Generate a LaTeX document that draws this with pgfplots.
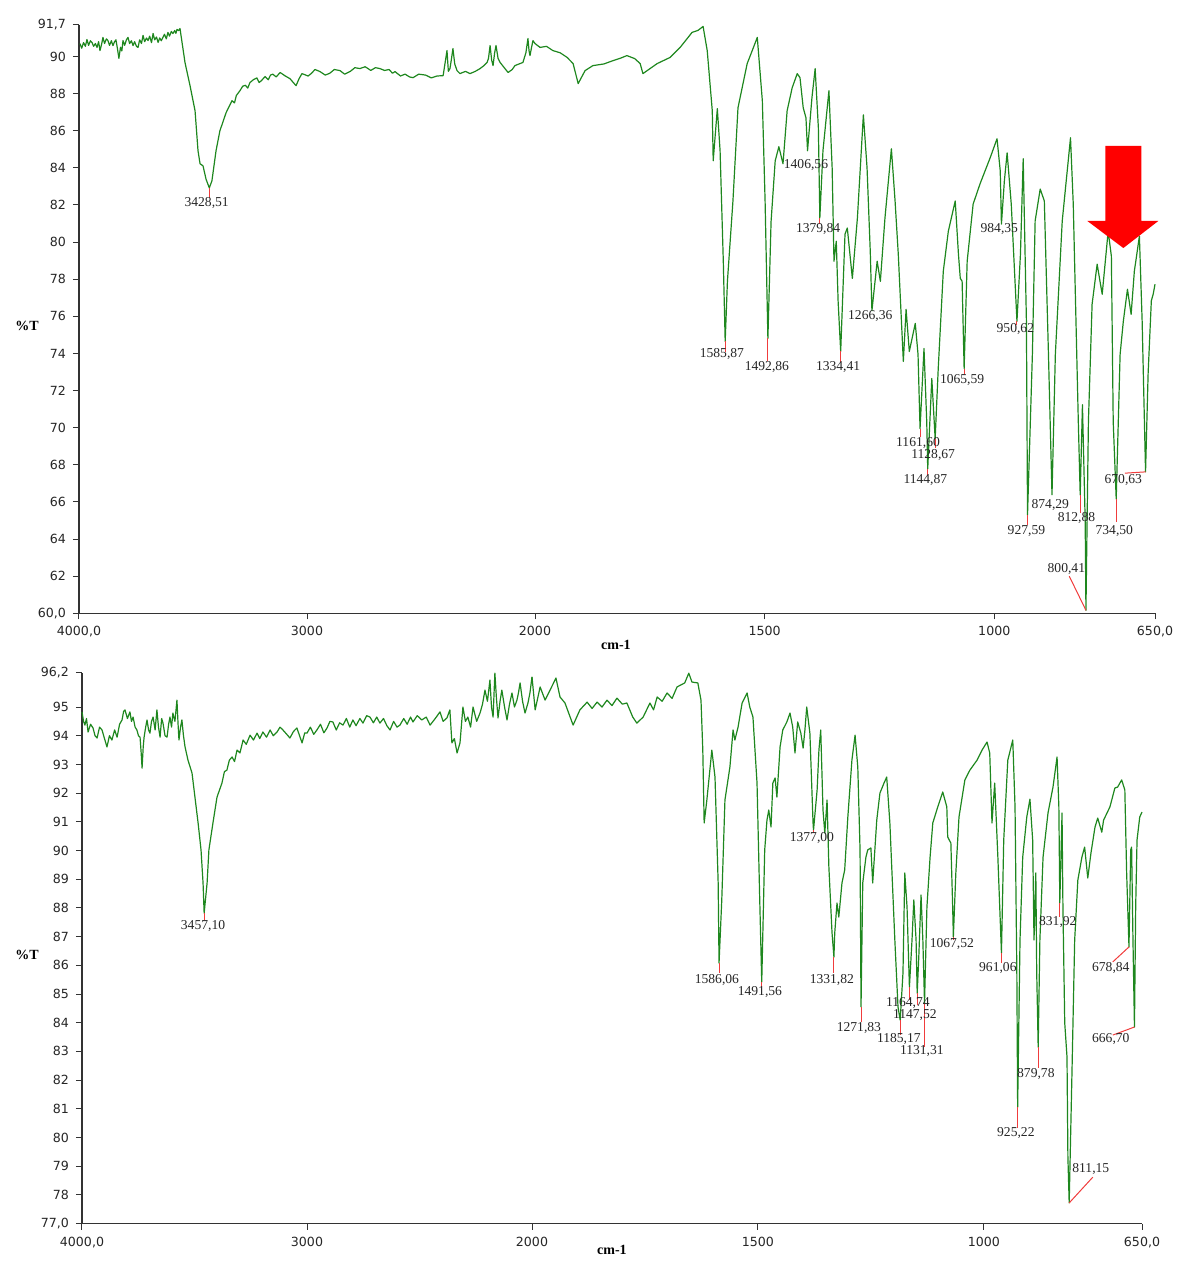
\documentclass[border=0pt]{standalone}
\usepackage{fontspec}
\setmainfont{Liberation Serif}
\newfontfamily\dejavu{DejaVu Sans}
\usepackage{pgfplots}
\pgfplotsset{compat=1.18}
\definecolor{specgreen}{RGB}{30,135,30}
\definecolor{pkred}{RGB}{240,60,60}
\newcommand\tickfont{\dejavu\fontsize{6.3}{7}\selectfont}
\newcommand\lblfont{\fontsize{6.8}{7}\selectfont}
\newcommand\axlblfont{\bfseries\fontsize{7}{8}\selectfont}
\tikzset{pk/.style={pkred, line width=0.5pt}}
\pgfplotsset{
  irbase/.style={
    anchor=south west, scale only axis, x dir=reverse,
    axis line style={line width=0.6pt, black!80},
    tick align=outside, major tick length=3pt,
    tick style={line width=0.5pt, black!80},
    ticklabel style={font=\tickfont, text=black!85},
    clip=false,
  },
  irleft/.style={irbase, axis x line*=bottom, axis y line*=left,
    xmin=2000, xmax=4000, xtick={4000,3000}, xticklabels={{4000,0},3000}},
  irright/.style={irbase, axis x line*=bottom, axis y line=none, ytick=\empty,
    xmin=650, xmax=2000, xtick={2000,1500,1000,650}, xticklabels={2000,1500,1000,{650,0}}},
  spec/.style={specgreen, line width=0.6pt, mark=none, line join=round},
}

\begin{document}
\begin{tikzpicture}
\useasboundingbox (0,0) rectangle (588pt,630.5pt);
%================ TOP SPECTRUM, 4000-2000 =================
\begin{axis}[irleft,
  at={(39.5pt,323.85pt)}, width=228pt, height=294.15pt,
  ymin=60, ymax=91.7,
  ytick={60,62,64,66,68,70,72,74,76,78,80,82,84,86,88,90,91.7},
  yticklabels={{60,0},62,64,66,68,70,72,74,76,78,80,82,84,86,88,90,{91,7}},
  ylabel={\%T}, ylabel style={at={(axis description cs:-0.114,0.488)}, anchor=center, rotate=-90, font=\axlblfont},
]
\addplot[spec] coordinates {
(3996,90.70) (3988,90.45) (3980,90.75) (3972,90.55) (3965,90.92) (3958,90.6) (3950,90.85) (3943,90.76)
(3936,90.55) (3928,90.7) (3921,90.49) (3914,90.8) (3908,90.32) (3901,90.65) (3895,91.03) (3888,90.7)
(3880,90.95) (3873,90.86) (3866,90.6) (3858,90.85) (3851,90.59) (3844,90.8) (3838,90.9) (3831,90.4)
(3825,89.9) (3818,90.5) (3812,90.3) (3807,90.86) (3800,90.6) (3792,90.9) (3785,91.03) (3778,90.7)
(3770,90.85) (3763,90.59) (3756,90.8) (3748,90.55) (3741,90.49) (3734,90.9) (3726,90.7) (3719,91.14)
(3712,90.8) (3704,91.0) (3697,90.86) (3690,91.1) (3682,90.75) (3675,91.24) (3668,90.9) (3660,91.05)
(3653,90.76) (3646,91.0) (3639,90.85) (3632,91.03) (3625,91.2) (3617,90.95) (3610,91.30) (3603,91.1)
(3595,91.35) (3588,91.24) (3580,91.4) (3575,91.25) (3570,91.46) (3563,91.4) (3557,91.51)
(3535,89.67) (3513,88.43) (3491,87.08) (3478,84.92) (3469,84.22) (3456,84.11) (3443,83.40) (3428.5,82.92)
(3417,83.30) (3399,84.92) (3382,86.00) (3368,86.5) (3355,86.97) (3342,87.3) (3329,87.62) (3318,87.5)
(3310,87.9) (3294,88.16) (3282,88.4) (3270,88.45) (3260,88.3) (3250,88.60) (3235,88.75) (3220,88.85)
(3210,88.6) (3200,88.7) (3184,88.92) (3170,88.75) (3160,89.0) (3150,89.05) (3135,88.9) (3118,89.14)
(3095,88.95) (3075,88.81) (3048,88.43) (3035,88.8) (3022,89.08) (2995,88.95) (2980,89.1) (2965,89.3)
(2943,89.19) (2920,89.0) (2900,89.1) (2880,89.3) (2855,89.24) (2835,89.05) (2810,89.2) (2790,89.4)
(2768,89.35) (2745,89.45) (2720,89.25) (2700,89.4) (2680,89.35) (2660,89.25) (2640,89.3) (2625,89.1)
(2614,89.19) (2590,88.95) (2570,89.05) (2550,88.9) (2535,88.86) (2510,89.05) (2480,89.0) (2455,88.85)
(2430,88.95) (2403,88.97) (2386,90.32) (2380,89.2) (2373,89.35) (2366,89.9) (2360,90.43) (2352,89.6)
(2342,89.24) (2329,89.08) (2305,89.2) (2285,89.08) (2262,89.2) (2241,89.35) (2225,89.5) (2210,89.68)
(2204,89.9) (2197,90.59) (2190,89.8) (2184,89.51) (2177,90.2) (2171,90.59) (2162,89.9) (2153,89.68)
(2135,89.4) (2118,89.14) (2100,89.3) (2088,89.51) (2070,89.6) (2053,89.68) (2040,90.2) (2031,90.97)
(2026,90.3) (2022,90.05) (2015,90.5) (2009,90.86) (2000,90.7)
};
\draw[pk] (axis cs:3428.5,82.92) -- (axis cs:3428.5,82.37);
\node[font=\lblfont, inner sep=0pt, text=black!85] at (axis cs:3440,82.1) {3428,51};
\end{axis}
%================ TOP SPECTRUM, 2000-650 =================
\begin{axis}[irright,
  at={(267.5pt,323.85pt)}, width=310pt, height=294.15pt,
  ymin=60, ymax=91.7,
  xlabel={cm-1}, xlabel style={at={(axis description cs:0.1306,-0.054)}, anchor=center, font=\axlblfont},
]
\addplot[spec] coordinates {
(2000,90.7) (1989,90.49) (1975,90.55) (1961,90.32) (1945,90.2) (1930,89.95) (1917,89.62)
(1906,88.54) (1891,89.24) (1874,89.51) (1850,89.6) (1830,89.78) (1815,89.9) (1800,90.05) (1783,89.89) (1771,89.62) (1765,89.08)
(1734,89.62) (1706,89.95) (1684,90.49) (1658,91.30) (1645,91.41) (1634,91.62) (1625,90.32) (1614,87.08)
(1612,84.38) (1603,87.19) (1597,84.92) (1590,78.97) (1585.9,74.65) (1581,77.9) (1569,82.22) (1558,87.24)
(1538,89.62) (1527,90.32) (1516,91.03) (1505,87.62) (1499,82.22) (1492.9,74.81) (1486,81.1) (1477,84.38)
(1469,85.14) (1460,84.22) (1451,87.08) (1440,88.32) (1429,89.08) (1423,88.86) (1416,87.24) (1410,86.70)
(1406.6,84.92) (1397,87.78) (1390,89.35) (1383,86.16) (1379.8,81.30) (1373,84.92) (1360,88.16) (1353,84.0)
(1349,78.97) (1344,80.05) (1340,76.81) (1334.4,74.11) (1325,80.43) (1320,80.76) (1309,78.05) (1298,81.30)
(1285,86.86) (1277,84.0) (1270,79.5) (1266.4,76.3) (1255,78.97) (1248,77.89) (1238,81.30) (1224,85.03)
(1216,82.22) (1209,79.35) (1198,73.57) (1192,76.38) (1185,74.11) (1172,75.62) (1166,73.95) (1161.6,69.95)
(1153,74.27) (1147,70.3) (1144.9,67.78) (1136,72.65) (1128.7,69.41) (1122,73.19) (1111,78.43) (1100,80.59)
(1085,82.22) (1078,79.35) (1074,78.05) (1070,77.89) (1065.6,73.19) (1059,78.97) (1046,82.05) (1031,83.14)
(1009,84.54) (994,85.57) (987,83.84) (984.4,80.97) (978,83.30) (972,84.81) (963,82.05) (950.6,75.73)
(943,79.35) (937,84.49) (930,75.73) (927.6,65.30) (917,73.95) (911,81.14) (900,82.86) (891,82.22)
(882,73.95) (874.3,66.38) (867,73.95) (852,81.14) (834,85.62) (828,82.05) (817,70.32) (812.9,66.38)
(808,71.24) (802,64.92) (800.4,60.16) (795,70.32) (787,76.65) (776,78.81) (765,77.19) (752,80.59)
(745,79.24) (741,70.32) (734.5,66.16) (726,73.95) (719,75.73) (710,77.46) (702,76.11) (695,78.43)
(684,80.32) (678,75.73) (670.6,67.62) (665,72.92) (658,76.84) (654,77.19) (650,77.73)
};
\draw[pk] (axis cs:1585.9,74.65) -- (axis cs:1585.9,74.1);
\draw[pk] (axis cs:1492.9,74.81) -- (axis cs:1492.9,73.6);
\draw[pk] (axis cs:1334.4,74.11) -- (axis cs:1334.4,73.55);
\draw[pk] (axis cs:1379.8,81.30) -- (axis cs:1379.8,81.0);
\draw[pk] (axis cs:1161.6,69.95) -- (axis cs:1161.6,69.5);
\draw[pk] (axis cs:1144.9,67.78) -- (axis cs:1144.9,67.45);
\draw[pk] (axis cs:1128.7,69.41) -- (axis cs:1128.7,68.9);
\draw[pk] (axis cs:1065.6,73.19) -- (axis cs:1065.6,72.9);
\draw[pk] (axis cs:950.6,75.73) -- (axis cs:950.6,75.55);
\draw[pk] (axis cs:927.6,65.30) -- (axis cs:927.6,64.75);
\draw[pk] (axis cs:812.9,66.38) -- (axis cs:812.9,65.4);
\draw[pk] (axis cs:734.5,66.16) -- (axis cs:734.5,64.9);
\draw[pk] (axis cs:800.4,60.16) -- (axis cs:836.7,62.0);
\draw[pk] (axis cs:670.6,67.62) -- (axis cs:715.6,67.55);
\begin{scope}[every node/.style={font=\lblfont, inner sep=0pt, text=black!85}]
\node at (axis cs:1593,73.97) {1585,87};
\node at (axis cs:1495,73.27) {1492,86};
\node at (axis cs:1340,73.27) {1334,41};
\node at (axis cs:1270,76.01) {1266,36};
\node at (axis cs:1410,84.15) {1406,56};
\node at (axis cs:1383.5,80.70) {1379,84};
\node at (axis cs:989,80.70) {984,35};
\node at (axis cs:954,75.31) {950,62};
\node at (axis cs:1070,72.57) {1065,59};
\node at (axis cs:1166,69.17) {1161,60};
\node at (axis cs:1133,68.53) {1128,67};
\node at (axis cs:1150,67.18) {1144,87};
\node at (axis cs:930,64.43) {927,59};
\node at (axis cs:878,65.83) {874,29};
\node at (axis cs:821,65.13) {812,88};
\node at (axis cs:738.6,64.43) {734,50};
\node at (axis cs:843,62.38) {800,41};
\node at (axis cs:719,67.18) {670,63};
\end{scope}
\fill[red] (axis cs:758.2,85.18) -- (axis cs:679.8,85.18) -- (axis cs:679.8,81.14) -- (axis cs:642.7,81.14)
  -- (axis cs:719,79.68) -- (axis cs:797.4,81.14) -- (axis cs:758.2,81.14) -- cycle;
\end{axis}

%================ BOTTOM SPECTRUM, 4000-2000 =================
\begin{axis}[irleft,
  at={(41pt,18.7pt)}, width=225pt, height=275.5pt,
  ymin=77, ymax=96.2,
  ytick={77,78,79,80,81,82,83,84,85,86,87,88,89,90,91,92,93,94,95,96.2},
  yticklabels={{77,0},78,79,80,81,82,83,84,85,86,87,88,89,90,91,92,93,94,95,{96,2}},
  ylabel={\%T}, ylabel style={at={(axis description cs:-0.122,0.4875)}, anchor=center, rotate=-90, font=\axlblfont},
]
\addplot[spec] coordinates {
(4000,94.83) (3993,94.5) (3987,94.37) (3980,94.6) (3973,94.13) (3962,94.4) (3951,94.27) (3942,94.0)
(3933,93.92) (3922,94.3) (3911,94.20) (3900,93.9) (3889,93.61) (3878,94.0) (3867,93.85) (3855,94.2)
(3844,93.95) (3833,94.4) (3822,94.55) (3815,94.85) (3809,94.90) (3798,94.6) (3787,94.83) (3780,94.5)
(3773,94.65) (3764,94.3) (3756,94.20) (3749,94.0) (3742,93.95) (3737,93.4) (3733,92.87) (3728,93.6)
(3724,93.95) (3717,94.3) (3711,94.55) (3704,94.2) (3698,94.09) (3691,94.5) (3684,94.65) (3675,94.2)
(3667,94.90) (3660,94.3) (3653,93.95) (3646,94.6) (3640,94.44) (3631,94.0) (3622,93.95) (3615,94.4)
(3609,94.65) (3602,94.3) (3596,94.79) (3587,94.5) (3578,95.24) (3573,94.4) (3569,93.85) (3562,94.3)
(3556,94.55) (3549,94.0) (3542,93.61) (3529,93.15) (3511,92.70)
(3498,91.86) (3484,90.96) (3471,90.02) (3462,88.87) (3457.1,87.82) (3444,88.87) (3436,90.02) (3418,90.96)
(3400,91.86) (3378,92.35) (3367,92.75) (3356,92.80) (3345,93.15) (3333,93.26) (3322,93.1) (3311,93.50)
(3298,93.4) (3284,93.85) (3270,93.7) (3253,94.02) (3238,93.85) (3222,94.09) (3210,93.9) (3196,94.13)
(3180,93.95) (3164,94.20) (3150,94.0) (3133,94.13) (3120,94.3) (3107,94.20) (3090,94.05) (3076,93.92)
(3060,94.15) (3045,94.27) (3033,94.0) (3022,93.75) (3010,94.1) (3000,94.09) (2985,94.3) (2970,94.05)
(2956,94.20) (2940,94.4) (2925,94.1) (2911,94.27) (2898,94.5) (2885,94.48) (2870,94.2) (2855,94.45)
(2840,94.37) (2825,94.6) (2810,94.3) (2796,94.55) (2782,94.35) (2765,94.6) (2751,94.44) (2735,94.7)
(2720,94.65) (2705,94.45) (2690,94.65) (2676,94.44) (2660,94.6) (2645,94.35) (2631,94.20) (2615,94.5)
(2600,94.3) (2587,94.37) (2570,94.6) (2555,94.4) (2540,94.65) (2529,94.48) (2510,94.7) (2490,94.55)
(2470,94.65) (2453,94.37) (2430,94.6) (2409,94.83) (2395,94.5) (2378,94.62) (2365,94.90) (2356,93.75)
(2345,93.9) (2333,93.40) (2320,93.75) (2307,95.00) (2296,94.5) (2285,94.65) (2273,94.3) (2262,95.00)
(2246,94.5) (2231,94.79) (2220,95.1) (2209,95.59) (2198,95.2) (2187,95.94) (2180,95.0)
(2173,94.65) (2165,96.18) (2158,95.3) (2151,94.62) (2142,95.2) (2134,95.59) (2122,95.0) (2111,94.55)
(2100,95.1) (2089,95.49) (2078,95.0) (2067,95.24) (2060,95.5) (2053,95.84) (2042,95.2)
(2031,94.79) (2018,95.14) (2009,95.5) (2000,96.05)
};
\draw[pk] (axis cs:3457.1,87.82) -- (axis cs:3457.1,87.58);
\node[font=\lblfont, inner sep=0pt, text=black!85] at (axis cs:3462,87.37) {3457,10};
\end{axis}
%================ BOTTOM SPECTRUM, 2000-650 =================
\begin{axis}[irright,
  at={(266pt,18.7pt)}, width=305pt, height=275.5pt,
  ymin=77, ymax=96.2,
  xlabel={cm-1}, xlabel style={at={(axis description cs:0.131,-0.048)}, anchor=center, font=\axlblfont},
]
\addplot[spec] coordinates {
(2000,96.05) (1993,94.90) (1982,95.70) (1971,95.24) (1960,95.59) (1947,96.01)
(1938,95.35) (1927,95.14) (1909,94.37) (1894,94.90) (1878,95.17) (1867,94.95) (1856,95.17) (1845,95.0) (1834,95.24) (1823,95.05) (1812,95.31)
(1800,95.1) (1790,95.14) (1777,94.65) (1768,94.44) (1754,94.65) (1739,95.14) (1731,94.9) (1723,95.35) (1712,95.2) (1701,95.49) (1690,95.3) (1679,95.70)
(1662,95.84) (1653,96.18) (1646,95.87) (1633,95.84) (1626,95.24) (1622,93.50) (1619,90.96) (1613,91.76)
(1602,93.50) (1595,92.56) (1588,88.87) (1586.06,86.08) (1580,88.28) (1573,91.76) (1562,92.91) (1555,94.20)
(1551,93.85) (1544,94.30) (1535,95.14) (1524,95.49) (1518,95.00) (1511,94.65) (1502,92.35) (1496,88.28)
(1491.56,85.42) (1485,90.02) (1480,91.06) (1476,91.41) (1471,90.82) (1467,92.35) (1462,92.53) (1458,91.86)
(1451,93.61) (1445,94.20) (1436,94.48) (1429,94.79) (1423,94.30) (1418,93.40) (1412,94.48) (1405,94.09)
(1400,93.57) (1396,94.20) (1392,95.00) (1385,94.09) (1378,90.96) (1377.0,90.71) (1369,92.11) (1365,93.50)
(1361,94.20) (1356,91.41) (1352,90.61) (1347,91.76) (1343,89.43) (1336,87.13) (1331.82,86.29) (1330,87.13)
(1325,88.17) (1321,87.68) (1314,88.87) (1308,89.32) (1301,91.17) (1292,93.15) (1285,94.02) (1279,92.91)
(1274,90.02) (1271.83,84.55) (1268,88.87) (1261,89.77) (1257,90.02) (1250,90.09) (1246,88.87) (1237,91.06)
(1230,92.00) (1221,92.35) (1215,92.56) (1208,90.96) (1197,86.88) (1190,84.55) (1185.17,84.09) (1179,85.73)
(1175,89.22) (1170,88.03) (1164.74,85.24) (1159,86.88) (1155,88.28) (1150,86.88) (1147.52,85.03) (1144,86.29)
(1139,88.45) (1135,86.88) (1131.31,84.69) (1126,88.03) (1119,89.77) (1113,90.96) (1102,91.52) (1091,92.04)
(1082,91.52) (1080,90.47) (1073,90.26) (1069,88.03) (1067.52,86.99) (1062,89.22) (1055,91.17) (1042,92.46)
(1031,92.80) (1015,93.15) (1004,93.50) (993,93.78) (987,93.40) (982,90.96) (976,92.35) (969,89.77)
(961.06,86.43) (956,90.37) (947,93.15) (936,93.85) (931,91.52) (927,85.73) (925.22,81.06) (920,86.88)
(914,89.77) (905,91.17) (898,91.79) (892,90.37) (889,86.88) (885,89.22) (883,85.73) (879.78,83.15)
(876,86.88) (869,89.77) (858,91.31) (847,92.21) (838,93.26) (834,91.52) (831.92,88.17) (827,91.31)
(825,88.03) (821,83.99) (816,82.81) (814,79.32) (811.15,77.72) (805,82.25) (799,86.88) (792,88.97)
(783,89.77) (777,90.12) (770,89.04) (763,89.91) (754,90.82) (748,91.13) (739,90.64) (735,91.06)
(721,91.52) (710,92.18) (704,92.21) (695,92.46) (688,92.11) (684,89.22) (678.84,86.64) (675,90.02)
(673,90.12) (670,86.88) (666.70,83.85) (664,88.03) (661,90.37) (655,91.17) (650,91.34)
};
\draw[pk] (axis cs:1586.06,86.08) -- (axis cs:1586.06,85.73);
\draw[pk] (axis cs:1491.56,85.42) -- (axis cs:1491.56,85.24);
\draw[pk] (axis cs:1377.0,90.71) -- (axis cs:1377.0,90.61);
\draw[pk] (axis cs:1331.82,86.29) -- (axis cs:1331.82,85.73);
\draw[pk] (axis cs:1271.83,84.55) -- (axis cs:1271.83,84.02);
\draw[pk] (axis cs:1185.17,84.09) -- (axis cs:1185.17,83.57);
\draw[pk] (axis cs:1164.74,85.24) -- (axis cs:1164.74,84.79);
\draw[pk] (axis cs:1147.52,85.03) -- (axis cs:1147.52,84.6);
\draw[pk] (axis cs:1131.31,84.69) -- (axis cs:1131.31,83.17);
\draw[pk] (axis cs:1067.52,86.99) -- (axis cs:1067.52,86.88);
\draw[pk] (axis cs:961.06,86.43) -- (axis cs:961.06,86.08);
\draw[pk] (axis cs:925.22,81.06) -- (axis cs:925.22,80.33);
\draw[pk] (axis cs:879.78,83.15) -- (axis cs:879.78,82.42);
\draw[pk] (axis cs:831.92,88.17) -- (axis cs:831.92,87.68);
\draw[pk] (axis cs:811.15,77.72) -- (axis cs:758.8,78.62);
\draw[pk] (axis cs:678.84,86.64) -- (axis cs:714.6,86.12);
\draw[pk] (axis cs:666.70,83.85) -- (axis cs:714.6,83.57);
\begin{scope}[every node/.style={font=\lblfont, inner sep=0pt, text=black!85}]
\node at (axis cs:1380.5,90.44) {1377,00};
\node at (axis cs:1590.7,85.49) {1586,06};
\node at (axis cs:1495.6,85.07) {1491,56};
\node at (axis cs:1336.3,85.49) {1331,82};
\node at (axis cs:1276.5,83.82) {1271,83};
\node at (axis cs:1188.1,83.43) {1185,17};
\node at (axis cs:1168.2,84.69) {1164,74};
\node at (axis cs:1152.7,84.27) {1147,52};
\node at (axis cs:1137.2,83.01) {1131,31};
\node at (axis cs:1070.8,86.74) {1067,52};
\node at (axis cs:969.0,85.91) {961,06};
\node at (axis cs:929.2,80.16) {925,22};
\node at (axis cs:884.9,82.21) {879,78};
\node at (axis cs:836.3,87.51) {831,92};
\node at (axis cs:763.3,78.90) {811,15};
\node at (axis cs:719.0,85.91) {678,84};
\node at (axis cs:719.0,83.43) {666,70};
\end{scope}
\end{axis}
\end{tikzpicture}
\end{document}
